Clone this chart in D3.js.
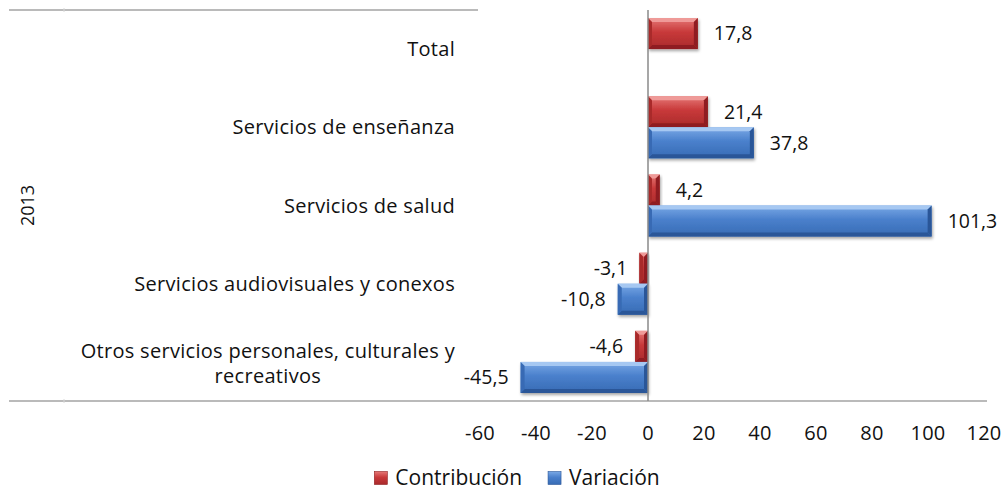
<!DOCTYPE html>
<html lang="es">
<head>
<meta charset="utf-8">
<script src="https://cdn.jsdelivr.net/npm/d3@7"></script>
<style>
  html, body { margin: 0; padding: 0; background: #fff; }
  svg { display: block; font-family: "Open Sans", "Noto Sans", sans-serif; }
  text { fill: #111; }
</style>
</head>
<body>
<svg id="chart" width="1008" height="490"></svg>
<script>
// Categories (top to bottom) and the two series
const categories = [
  "Total",
  "Servicios de enseñanza",
  "Servicios de salud",
  "Servicios audiovisuales y conexos",
  "Otros servicios personales, culturales y recreativos"
];
const seriesNames = ["Contribución", "Variación"];
const contribucion = [17.8, 21.4, 4.2, -3.1, -4.6];
const variacion = [null, 37.8, 101.3, -10.8, -45.5];
const xTicks = [-60, -40, -20, 0, 20, 40, 60, 80, 100, 120];
const groupLabel = "2013";

const palette = {
  "Contribución": { base: "#c8393a", light: "#e57876", top: "#ef9a98", dark: "#8f1f20", side: "#a92a2b" },
  "Variación":    { base: "#4a80cc", light: "#7aa9e6", top: "#a6c8f2", dark: "#2a5698", side: "#376bb4" }
};

const svg = d3.select("#chart");
const fmt = v => String(v).replace(".", ",");

// Scales
const x = d3.scaleLinear().domain([-60, 120]).range([480, 984]);
const y = d3.scaleBand().domain(categories).range([10, 401]).paddingInner(0).paddingOuter(0);
const ySub = d3.scaleBand().domain(seriesNames).range([0, y.bandwidth()]).paddingInner(0).paddingOuter(0.26);

const rows = [];
categories.forEach((c, i) => {
  rows.push({ cat: c, series: "Contribución", value: contribucion[i] });
  if (variacion[i] !== null) rows.push({ cat: c, series: "Variación", value: variacion[i] });
});

// Gradients and shadow
const defs = svg.append("defs");
seriesNames.forEach((s, k) => {
  const p = palette[s];
  const g = defs.append("linearGradient").attr("id", "face" + k)
    .attr("x1", 0).attr("y1", 0).attr("x2", 0).attr("y2", 1);
  g.append("stop").attr("offset", "0%").attr("stop-color", p.light);
  g.append("stop").attr("offset", "45%").attr("stop-color", p.base);
  g.append("stop").attr("offset", "100%").attr("stop-color", p.side);
});
const f = defs.append("filter").attr("id", "shadow")
  .attr("x", "-10%").attr("y", "-20%").attr("width", "130%").attr("height", "160%");
f.append("feDropShadow").attr("dx", 1).attr("dy", 2).attr("stdDeviation", 1.8)
  .attr("flood-color", "#000").attr("flood-opacity", 0.35);

// Axis lines
const lineColor = "#a3a3a3";
svg.append("line").attr("x1", 9).attr("x2", 478).attr("y1", 10).attr("y2", 10)
  .attr("stroke", lineColor).attr("stroke-width", 1.6);
svg.append("line").attr("x1", 9).attr("x2", 987).attr("y1", 401).attr("y2", 401)
  .attr("stroke", lineColor).attr("stroke-width", 1.6);
svg.append("line").attr("x1", 64).attr("x2", 64).attr("y1", 8).attr("y2", 12)
  .attr("stroke", "#d8d8d8").attr("stroke-width", 1);
svg.append("line").attr("x1", 64).attr("x2", 64).attr("y1", 399).attr("y2", 403)
  .attr("stroke", "#d8d8d8").attr("stroke-width", 1);

// Bars with bevelled edges
const bars = svg.append("g").selectAll("g.bar").data(rows).join("g")
  .attr("class", "bar").attr("filter", "url(#shadow)");
bars.each(function(d) {
  const g = d3.select(this);
  const p = palette[d.series];
  const k = seriesNames.indexOf(d.series);
  const x0 = Math.min(x(0), x(d.value)), x1 = Math.max(x(0), x(d.value));
  const y0 = y(d.cat) + ySub(d.series), y1 = y0 + ySub.bandwidth();
  const b = Math.min(4, (x1 - x0) / 2, (y1 - y0) / 2);
  g.append("rect").attr("x", x0).attr("y", y0).attr("width", x1 - x0).attr("height", y1 - y0)
    .attr("fill", `url(#face${k})`);
  const poly = (pts, fill) => g.append("polygon")
    .attr("points", pts.map(q => q.join(",")).join(" ")).attr("fill", fill);
  poly([[x0, y0], [x1, y0], [x1 - b, y0 + b], [x0 + b, y0 + b]], p.top);
  poly([[x0, y1], [x1, y1], [x1 - b, y1 - b], [x0 + b, y1 - b]], p.dark);
  poly([[x0, y0], [x0 + b, y0 + b], [x0 + b, y1 - b], [x0, y1]], p.side);
  poly([[x1, y0], [x1 - b, y0 + b], [x1 - b, y1 - b], [x1, y1]], p.dark);
});

// Zero line
svg.append("line").attr("x1", x(0)).attr("x2", x(0)).attr("y1", 10).attr("y2", 401)
  .attr("stroke", "#8a8a8a").attr("stroke-width", 1.5);

// Value labels
svg.append("g").selectAll("text").data(rows).join("text")
  .attr("x", d => d.value >= 0 ? x(d.value) + 16 : x(d.value) - 12)
  .attr("y", d => y(d.cat) + ySub(d.series) + ySub.bandwidth() / 2)
  .attr("dy", "0.35em")
  .attr("text-anchor", d => d.value >= 0 ? "start" : "end")
  .attr("font-size", 19.5)
  .text(d => fmt(d.value));

// X tick labels
svg.append("g").selectAll("text").data(xTicks).join("text")
  .attr("x", d => x(d)).attr("y", 433).attr("dy", "0.35em")
  .attr("text-anchor", "middle").attr("font-size", 20).attr("letter-spacing", 0.3)
  .text(d => d);

// Category labels, wrapped and right-aligned
const labelRight = 455, wrapWidth = 420, lineH = 25;
const catG = svg.append("g");
categories.forEach(c => {
  const t = catG.append("text").attr("font-size", 20).attr("letter-spacing", 0.3);
  const words = c.split(" ");
  const lines = [];
  let cur = [];
  words.forEach(w => {
    cur.push(w);
    t.text(cur.join(" "));
    if (t.node().getComputedTextLength() > wrapWidth && cur.length > 1) {
      cur.pop();
      lines.push(cur.join(" "));
      cur = [w];
    }
  });
  lines.push(cur.join(" "));
  t.text(null);
  const widths = lines.map(l => { t.text(l); const w = t.node().getComputedTextLength(); t.text(null); return w; });
  const blockW = d3.max(widths);
  const cx = labelRight - blockW / 2;
  const cy = y(c) + y.bandwidth() / 2 - (lines.length - 1) * lineH / 2 + (lines.length > 1 ? 2 : 0);
  t.attr("text-anchor", "middle");
  lines.forEach((l, i) => {
    t.append("tspan").attr("x", cx).attr("y", cy + i * lineH).attr("dy", "0.35em").text(l);
  });
});

// Group label
svg.append("text")
  .attr("transform", `translate(28, ${(10 + 401) / 2}) rotate(-90)`)
  .attr("text-anchor", "middle").attr("dy", "0.35em").attr("font-size", 18)
  .text(groupLabel);

// Legend
const legend = svg.append("g");
const items = legend.selectAll("g").data(seriesNames).join("g");
items.append("rect").attr("width", 13).attr("height", 13).attr("y", -6.5)
  .attr("fill", (d, k) => `url(#face${k})`)
  .attr("stroke", d => palette[d].dark).attr("stroke-width", 0.6);
items.append("text").attr("x", 21).attr("dy", "0.35em").attr("font-size", 21).text(d => d);
let off = 0;
items.each(function() {
  const w = this.getBBox().width;
  d3.select(this).attr("transform", `translate(${off},0)`);
  off += w + 26;
});
off -= 26;
legend.attr("transform", `translate(${517 - off / 2}, 478)`);
</script>
</body>
</html>
